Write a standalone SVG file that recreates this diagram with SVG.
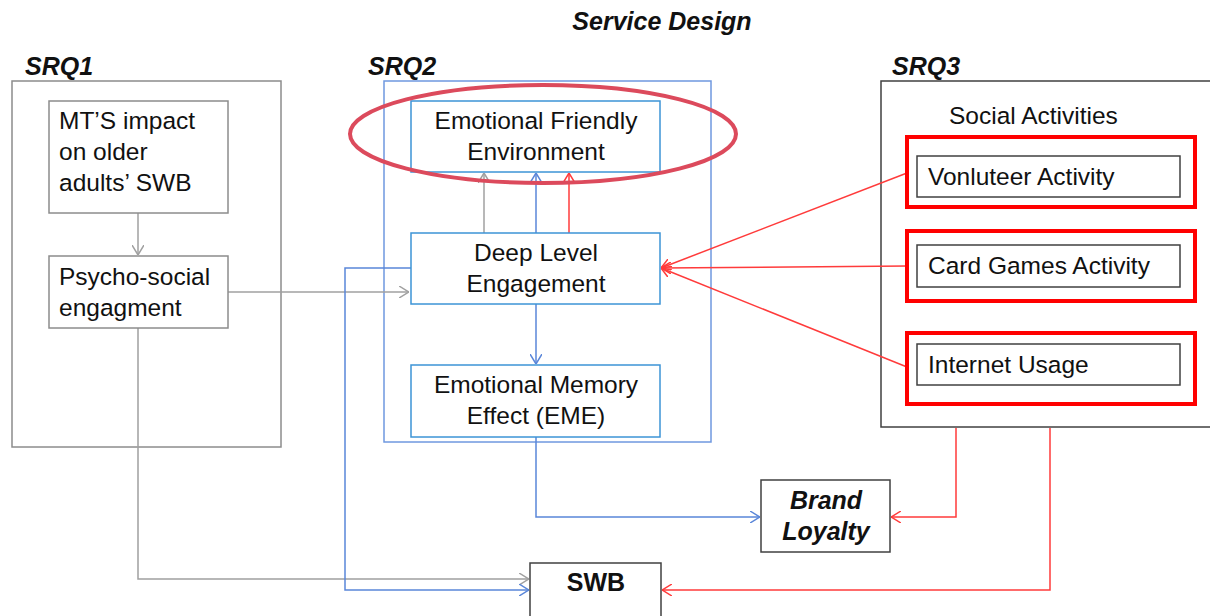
<svg xmlns="http://www.w3.org/2000/svg" width="1210" height="616" viewBox="0 0 1210 616">
  <style>
    text { font-family: "Liberation Sans", Arial, sans-serif; fill: #111; }
    .t { font-size: 24.5px; }
    .h { font-size: 25px; font-weight: bold; font-style: italic; }
    .c { text-anchor: middle; }
    .frame { fill: none; stroke: #8c8c8c; stroke-width: 1.5; }
    .dark { fill: #fff; stroke: #404040; stroke-width: 1.5; }
    .bluebox { fill: #fff; stroke: #3d94d6; stroke-width: 1.5; }
    .blueframe { fill: none; stroke: #6f98df; stroke-width: 1.5; }
    .redbox { fill: none; stroke: #ff0000; stroke-width: 4; }
    .gray { fill: none; stroke: #a0a0a0; stroke-width: 1.5; }
    .blue { fill: none; stroke: #5a86d9; stroke-width: 1.5; }
    .red { fill: none; stroke: #ff3b3b; stroke-width: 1.5; }
  </style>
  <defs>
    <marker id="ag" viewBox="0 0 10 12" refX="10" refY="6" markerWidth="10" markerHeight="12" markerUnits="userSpaceOnUse" orient="auto">
      <path d="M0,0 L10,6 L0,12" fill="none" stroke="#a0a0a0" stroke-width="1.5"/>
    </marker>
    <marker id="ab" viewBox="0 0 10 12" refX="10" refY="6" markerWidth="10" markerHeight="12" markerUnits="userSpaceOnUse" orient="auto">
      <path d="M0,0 L10,6 L0,12" fill="none" stroke="#5a86d9" stroke-width="1.5"/>
    </marker>
    <marker id="ar" viewBox="0 0 10 12" refX="10" refY="6" markerWidth="10" markerHeight="12" markerUnits="userSpaceOnUse" orient="auto">
      <path d="M0,0 L10,6 L0,12" fill="none" stroke="#ff3b3b" stroke-width="1.5"/>
    </marker>
  </defs>

  <rect width="1210" height="616" fill="#fff"/>

  <text class="h c" x="662" y="30">Service Design</text>

  <!-- research question frames -->
  <g id="srq1">
    <text class="h" x="25" y="75">SRQ1</text>
    <rect class="frame" x="12" y="81" width="269" height="366"/>
  </g>
  <g id="srq2">
    <text class="h" x="368" y="75">SRQ2</text>
    <rect class="blueframe" x="384" y="81" width="327" height="361"/>
  </g>
  <g id="srq3">
    <text class="h" x="892" y="75">SRQ3</text>
    <rect class="dark" x="881" y="81" width="340" height="346" style="fill:none"/>
    <text class="t" x="949" y="124">Social Activities</text>
  </g>

  <!-- connectors -->
  <g id="connectors">
    <!-- SRQ1 flow -->
    <line class="gray" x1="138" y1="213" x2="138" y2="255" marker-end="url(#ag)"/>
    <line class="gray" x1="228" y1="292" x2="409" y2="292" marker-end="url(#ag)"/>
    <polyline class="gray" points="138,328 138,579 529,579" marker-end="url(#ag)"/>
    <!-- Deep Level to Emotional Friendly -->
    <line class="gray" x1="484" y1="233" x2="484" y2="173" marker-end="url(#ag)"/>
    <line class="blue" x1="536" y1="233" x2="536" y2="173" marker-end="url(#ab)"/>
    <line class="red" x1="569" y1="233" x2="569" y2="173" marker-end="url(#ar)"/>
    <!-- Deep Level to EME -->
    <line class="blue" x1="536" y1="304" x2="536" y2="364" marker-end="url(#ab)"/>
    <!-- Deep Level to SWB -->
    <polyline class="blue" points="411,268 345,268 345,590 529,590" marker-end="url(#ab)"/>
    <!-- EME to Brand Loyalty -->
    <polyline class="blue" points="536,437 536,517 760,517" marker-end="url(#ab)"/>
    <!-- social activities to Deep Level -->
    <line class="red" x1="907" y1="173" x2="661" y2="268" marker-end="url(#ar)"/>
    <line class="red" x1="907" y1="266" x2="661" y2="268" marker-end="url(#ar)"/>
    <line class="red" x1="907" y1="367" x2="661" y2="268" marker-end="url(#ar)"/>
    <!-- SRQ3 to outcomes -->
    <polyline class="red" points="956,428 956,517 891,517" marker-end="url(#ar)"/>
    <polyline class="red" points="1050,428 1050,590 662,590" marker-end="url(#ar)"/>
  </g>

  <!-- SRQ1 nodes -->
  <g id="mts-impact">
    <rect class="frame" x="49" y="101" width="179" height="112" style="fill:#fff"/>
    <text class="t" x="59" y="129">MT’S impact</text>
    <text class="t" x="59" y="160">on older</text>
    <text class="t" x="59" y="191">adults’ SWB</text>
  </g>
  <g id="psycho-social">
    <rect class="frame" x="49" y="256" width="179" height="72" style="fill:#fff"/>
    <text class="t" x="59" y="285">Psycho-social</text>
    <text class="t" x="59" y="316">engagment</text>
  </g>

  <!-- SRQ2 nodes -->
  <g id="emotional-friendly">
    <rect class="bluebox" x="411" y="101" width="249" height="71"/>
    <text class="t c" x="536" y="129">Emotional Friendly</text>
    <text class="t c" x="536" y="160">Environment</text>
  </g>
  <g id="deep-level">
    <rect class="bluebox" x="411" y="233" width="249" height="71"/>
    <text class="t c" x="536" y="261">Deep Level</text>
    <text class="t c" x="536" y="292">Engagement</text>
  </g>
  <g id="eme">
    <rect class="bluebox" x="411" y="365" width="249" height="72"/>
    <text class="t c" x="536" y="393">Emotional Memory</text>
    <text class="t c" x="536" y="424">Effect (EME)</text>
  </g>
  <g id="highlight">
    <ellipse cx="543" cy="134" rx="193" ry="49" fill="none" stroke="#dc4a5c" stroke-width="4"/>
  </g>

  <!-- SRQ3 nodes -->
  <g id="volunteer">
    <rect class="redbox" x="907" y="137" width="288" height="70"/>
    <rect class="dark" x="917" y="156" width="263" height="41"/>
    <text class="t" x="928" y="185">Vonluteer Activity</text>
  </g>
  <g id="card-games">
    <rect class="redbox" x="907" y="231" width="288" height="70"/>
    <rect class="dark" x="917" y="245" width="263" height="42"/>
    <text class="t" x="928" y="274">Card Games Activity</text>
  </g>
  <g id="internet">
    <rect class="redbox" x="907" y="333" width="288" height="71"/>
    <rect class="dark" x="917" y="344" width="263" height="41"/>
    <text class="t" x="928" y="373">Internet Usage</text>
  </g>

  <!-- outcomes -->
  <g id="brand-loyalty">
    <rect class="dark" x="761" y="480" width="129" height="72"/>
    <text class="h c" x="826" y="509">Brand</text>
    <text class="h c" x="826" y="540">Loyalty</text>
  </g>
  <g id="swb">
    <rect class="dark" x="530" y="563" width="131" height="62"/>
    <text class="h c" x="596" y="591" style="font-style:normal">SWB</text>
  </g>
</svg>
